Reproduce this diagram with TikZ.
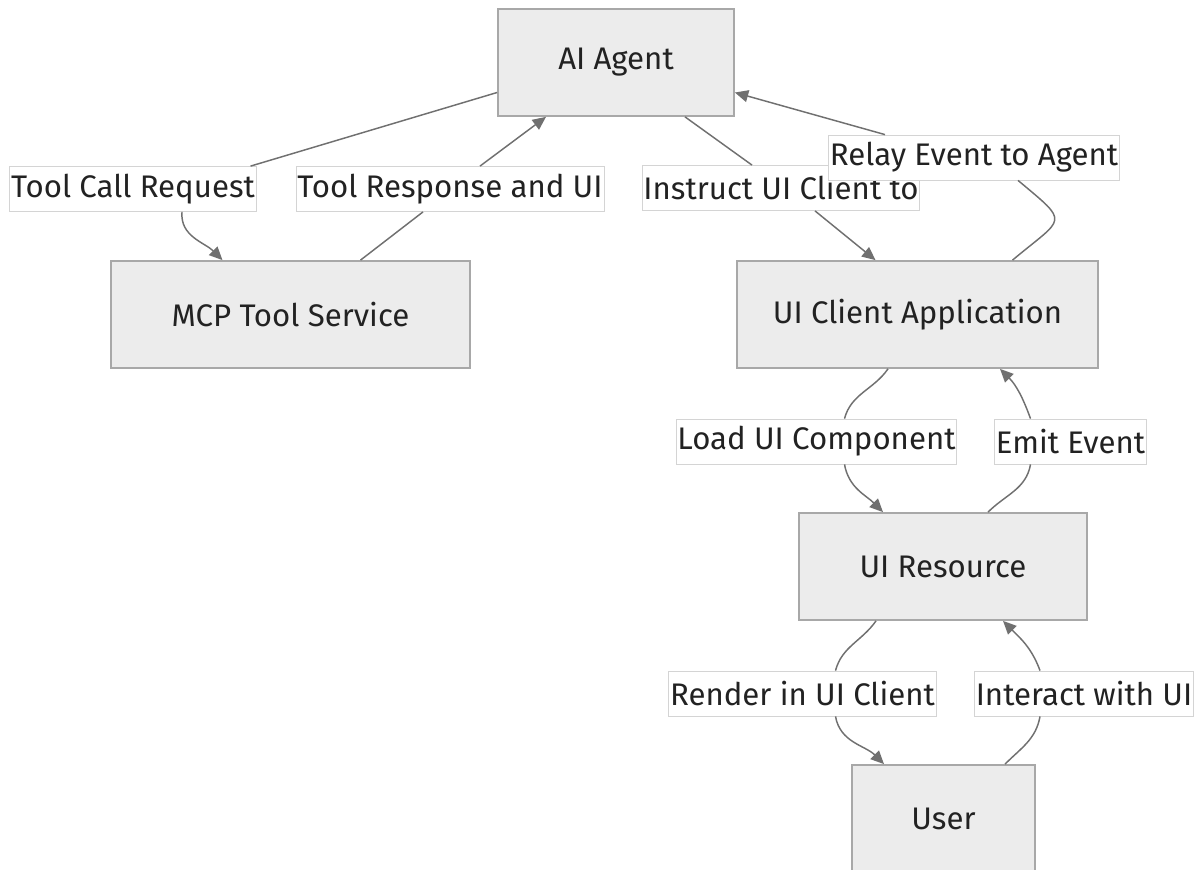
\documentclass[tikz,border=0pt]{standalone}
\usepackage{fontspec}
\setmainfont{Fira Sans}
\usepackage{tikz}
\definecolor{box_fill}{HTML}{ECECEC}
\definecolor{box_line}{HTML}{A8A8A8}
\definecolor{edge_line}{HTML}{707070}
\definecolor{label_line}{HTML}{D4D4D4}
\definecolor{text_dark}{HTML}{222222}
\tikzset{
  diagram_font/.style = {font=\fontsize{23.4}{28}\selectfont, text=text_dark},
  box_size/.style = {minimum height=80.25pt},
  box_background/.style = {fill=box_fill}
}
\tikzset{
  box/.style = {diagram_font, box_size, box_background, draw=box_line, line width=1.3pt, align=center},
  edge_label/.style = {diagram_font, fill=white, draw=label_line, line width=0.6pt, minimum height=33.75pt, inner xsep=1pt, inner ysep=0pt},
  flow/.style = {draw=edge_line, line width=1.1pt},
  flow_arrow/.style = {flow, -{Triangle[length=10pt,width=9pt]}}
}
\usetikzlibrary{arrows.meta, calc}

\begin{document}
\begin{tikzpicture}[x=0.75pt, y=0.75pt]
        \useasboundingbox (0,0) rectangle (1199,-870);
        
        % Components
        \node[box, minimum width=177pt] (agent) at (616,-62.5) {AI Agent};
        \node[box, minimum width=269.25pt] (mcp) at (290.5,-314.5) {MCP Tool Service};
        \node[box, minimum width=270.75pt] (client) at (917.5,-314.5) {UI Client Application};
        \node[box, minimum width=216pt] (resource) at (943,-566.5) {UI Resource};
        \node[box, minimum width=137.25pt] (user) at (943.5,-818.5) {User};
        
        % Edge labels
        \node[edge_label] (call_lbl) at (133,-189) {Tool Call Request};
        \node[edge_label] (resp_lbl) at (450,-189) {Tool Response and UI};
        \node[edge_label] (instr_lbl) at (781,-188) {Instruct UI Client to};
        \node[edge_label] (relay_lbl) at (974,-157.5) {Relay Event to Agent};
        \node[edge_label] (load_lbl) at (816.5,-441.5) {Load UI Component};
        \node[edge_label] (emit_lbl) at (1070.5,-441.5) {Emit Event};
        \node[edge_label] (render_lbl) at (802.5,-693.5) {Render in UI Client};
        \node[edge_label] (interact_lbl) at (1084,-693.5) {Interact with UI};
        
        % Agent and tool service
        \draw[flow] ($(agent.west)+(0,-30)$) -- ($(call_lbl.north east)+(-6,0)$);
        \draw[flow_arrow] ($(call_lbl.south)+(49,0)$) to[out=-95,in=135] ($(mcp.north)+(-68,0)$);
        
        \draw[flow] ($(mcp.north)+(70,0)$) -- ($(resp_lbl.south)+(-27,0)$);
        \draw[flow_arrow] ($(resp_lbl.north)+(30,0)$) -- ($(agent.south)+(-70,0)$);
        
        % Agent and client
        \draw[flow] ($(agent.south)+(69,0)$) -- ($(instr_lbl.north)+(-29,0)$);
        \draw[flow_arrow] ($(instr_lbl.south)+(34,0)$) -- ($(client.north)+(-42,0)$);
        
        \draw[flow] ($(client.north)+(95,0)$) to[out=40,in=-40,looseness=2.2] ($(relay_lbl.south)+(44,0)$);
        \draw[flow_arrow] ($(relay_lbl.north)+(-89,0)$) -- ($(agent.east)+(0,-30)$);
        
        % Client and resource
        \draw[flow] ($(client.south)+(-29.5,0)$) to[out=-125,in=75] ($(load_lbl.north)+(28,0)$);
        \draw[flow_arrow] ($(load_lbl.south)+(28,0)$) to[out=-80,in=135] ($(resource.north)+(-60,0)$);
        
        \draw[flow] ($(resource.north)+(45,0)$) to[out=45,in=-100] ($(emit_lbl.south)+(-40,0)$);
        \draw[flow_arrow] ($(emit_lbl.north)+(-40,0)$) to[out=110,in=-45] ($(client.south)+(82.5,0)$);
        
        % Resource and user
        \draw[flow] ($(resource.south)+(-67,0)$) to[out=-125,in=75] ($(render_lbl.north)+(33,0)$);
        \draw[flow_arrow] ($(render_lbl.south)+(33,0)$) to[out=-80,in=135] ($(user.north)+(-59.5,0)$);
        
        \draw[flow] ($(user.north)+(61.5,0)$) to[out=45,in=-100] ($(interact_lbl.south)+(-44,0)$);
        \draw[flow_arrow] ($(interact_lbl.north)+(-44,0)$) to[out=110,in=-45] ($(resource.south)+(60,0)$);
    \end{tikzpicture}
\end{document}
